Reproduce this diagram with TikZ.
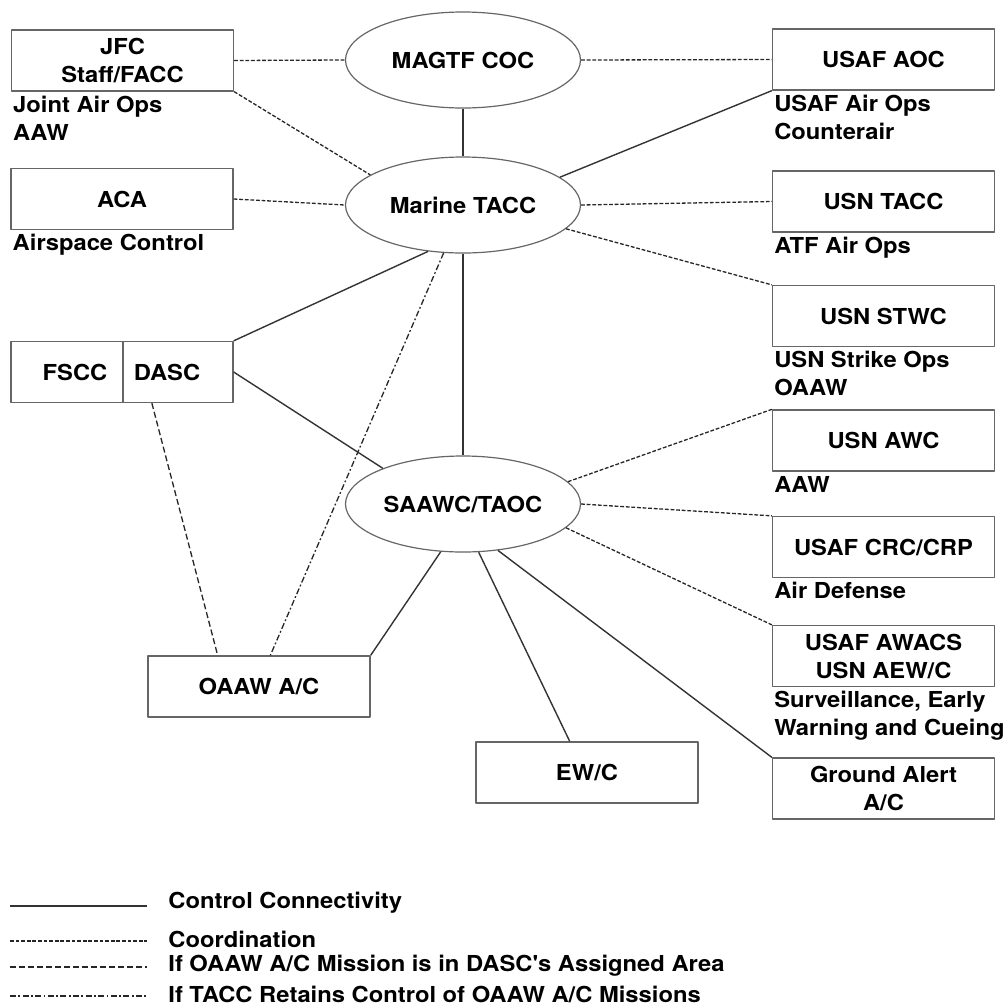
\documentclass[tikz,border=0pt]{standalone}
\usepackage{fontspec}
\setmainfont[FakeStretch=1.08, Ligatures=TeXOff]{TeX Gyre Heros}
\usetikzlibrary{shapes.geometric}

\begin{document}
\begin{tikzpicture}[x=0.5pt, y=-0.5pt, line join=round,
  font=\fontsize{11}{14}\selectfont\bfseries,
  unit/.style={draw=black!60, line width=0.65pt, rectangle, minimum width=111pt, minimum height=30.5pt, inner sep=1pt, align=center},
  hub/.style={draw=black!60, line width=0.6pt, ellipse, minimum width=117.5pt, minimum height=48pt, inner sep=0pt},
  note/.style={anchor=north west, align=left, inner xsep=1pt, inner ysep=2pt},
  ctrl/.style={draw=black!80, line width=0.7pt},
  coordline/.style={draw=black!85, line width=0.65pt, dash pattern=on 1.9pt off 0.9pt},
  dascline/.style={draw=black!85, line width=0.65pt, dash pattern=on 3pt off 1.5pt},
  taccline/.style={draw=black!85, line width=0.65pt, dash pattern=on 3pt off 1.2pt on 0.9pt off 1.2pt}]
\useasboundingbox (0,0) rectangle (1008,1008);

\node[hub] (magtf) at (463,60) {MAGTF COC};
\node[hub] (tacc) at (463,205) {Marine TACC};
\node[hub] (saawc) at (463,504) {SAAWC/TAOC};

\node[unit] (jfc) at (122.5,60.5) {JFC\\Staff/FACC};
\node[unit] (aca) at (122,199) {ACA};
\node[unit, minimum width=56pt] (fscc) at (67,372) {\hspace*{8pt}FSCC};
\node[unit, minimum width=55pt] (dasc) at (178,372) {DASC\hspace*{11pt}};
\node[unit] (oaaw) at (259,686.5) {OAAW A/C};
\node[unit] (ewc) at (587,772.5) {EW/C};

\node[unit] (aoc) at (883.5,59.5) {USAF AOC};
\node[unit] (usntacc) at (883.5,201.5) {USN TACC};
\node[unit] (stwc) at (883.5,316) {USN STWC};
\node[unit] (awc) at (883.5,440.5) {USN AWC};
\node[unit] (crc) at (883.5,547) {USAF CRC/CRP};
\node[unit] (awacs) at (883.5,656) {USAF AWACS\\USN AEW/C};
\node[unit] (gnd) at (883.5,788.5) {Ground Alert\\A/C};

\node[note] (jfcnote) at (jfc.south west) {Joint Air Ops\\AAW};
\node[note] (acanote) at (aca.south west) {Airspace Control};
\node[note] (aocnote) at (aoc.south west) {USAF Air Ops\\Counterair};
\node[note] (usntaccnote) at (usntacc.south west) {ATF Air Ops};
\node[note] (stwcnote) at (stwc.south west) {USN Strike Ops\\OAAW};
\node[note] (awcnote) at (awc.south west) {AAW};
\node[note] (crcnote) at (crc.south west) {Air Defense};
\node[note] (awacsnote) at (awacs.south west) {Surveillance, Early\\Warning and Cueing};

\draw[coordline] (jfc.east) -- (magtf.west);
\draw[coordline] (magtf.east) -- (aoc.west);
\draw[ctrl] (magtf) -- (tacc);
\draw[coordline] (jfc.south east) -- (tacc.162);
\draw[coordline] (aca.east) -- (tacc.west);
\draw[ctrl] (tacc.16) -- (aoc.south west);
\draw[coordline] (tacc.east) -- (usntacc.west);
\draw[coordline] (tacc.347) -- (stwc.north west);
\draw[ctrl] (tacc.233) -- (dasc.north east);
\draw[taccline] (tacc.248) -- (oaaw.70);
\draw[ctrl] (tacc) -- (saawc);

\draw[ctrl] (dasc.east) -- (saawc.156);
\draw[dascline] (dasc.230) -- (oaaw.143);
\draw[ctrl] (saawc.245) -- (oaaw.north east);
\draw[ctrl] (saawc.288) -- (ewc.119);
\draw[ctrl] (saawc.307) -- (gnd.north west);
\draw[coordline] (saawc.12) -- (awc.north west);
\draw[coordline] (saawc.east) -- (crc.north west);
\draw[coordline] (saawc.347) -- (awacs.north west);

\coordinate (ctrlA) at (10,906);
\coordinate (ctrlB) at (147,906);
\coordinate (coordA) at (10,941);
\coordinate (coordB) at (147,941);
\coordinate (dascA) at (10,967);
\coordinate (dascB) at (147,967);
\coordinate (taccA) at (10,996);
\coordinate (taccB) at (147,996);
\draw[ctrl] (ctrlA) -- (ctrlB);
\draw[coordline] (coordA) -- (coordB);
\draw[dascline] (dascA) -- (dascB);
\draw[taccline] (taccA) -- (taccB);
\node[anchor=west, inner sep=0pt] (ctrltext) at (168,903) {Control Connectivity};
\node[anchor=west, inner sep=0pt] (coordtext) at (168,939) {Coordination};
\node[anchor=west, inner sep=0pt] (dasctext) at (168,966) {If OAAW A/C Mission is in DASC's Assigned Area};
\node[anchor=west, inner sep=0pt] (tacctext) at (168,994) {If TACC Retains Control of OAAW A/C Missions};

\end{tikzpicture}
\end{document}
